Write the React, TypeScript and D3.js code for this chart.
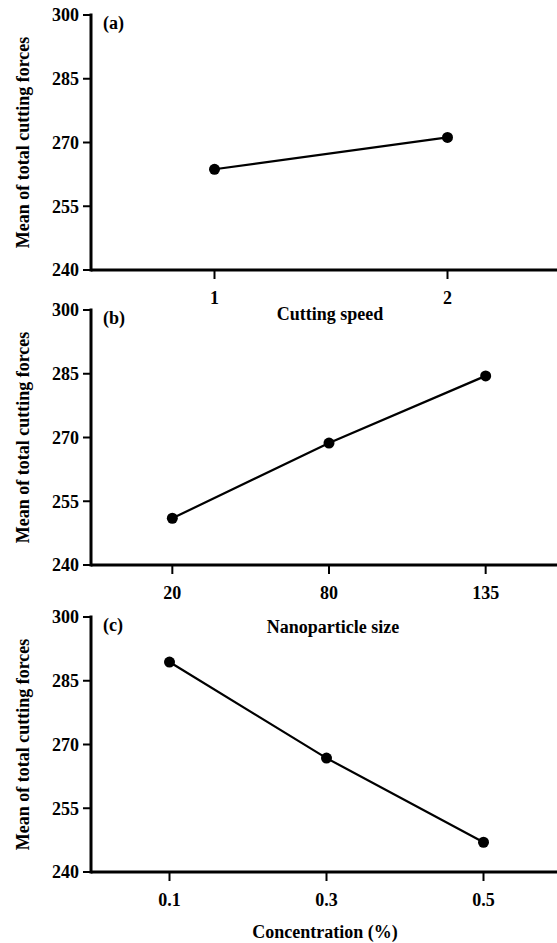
import React from "react";
import * as d3 from "d3";

// main effects data
const speedLevels = ["1", "2"];
const speedMeans = [263.7, 271.2];

const sizeLevels = ["20", "80", "135"];
const sizeMeans = [251.0, 268.7, 284.5];

const concLevels = ["0.1", "0.3", "0.5"];
const concMeans = [289.4, 266.8, 247.0];

const yTicks = [240, 255, 270, 285, 300];
const yTitle = "Mean of total cutting forces";

const W = 557;
const H = 943;
const axisLeft = 91;
const axisRight = 557;
const plotH = 255;
const font = "'Liberation Serif', 'Times New Roman', serif";

const panels = [
    { tag: "(a)", levels: speedLevels, means: speedMeans, title: "Cutting speed", top: 15, xRange: [98, 564], titleX: 330, titleY: 320 },
    { tag: "(b)", levels: sizeLevels, means: sizeMeans, title: "Nanoparticle size", top: 310, xRange: [94, 564], titleX: 333, titleY: 633 },
    { tag: "(c)", levels: concLevels, means: concMeans, title: "Concentration (%)", top: 617, xRange: [91, 562], titleX: 325, titleY: 938 },
];

const Panel = ({ p }: { p: typeof panels[0] }) => {
    const y = d3.scaleLinear().domain([240, 300]).range([p.top + plotH, p.top]);
    const x = d3.scalePoint().domain(p.levels).range(p.xRange as [number, number]).padding(0.5);
    const pts = p.levels.map((l, i) => [x(l) as number, y(p.means[i])] as [number, number]);
    const line = d3.line();
    const base = y(240);

    return (
        <g>
            {/* y title */}
            <text
                transform={`translate(23,${(y(240) + y(300)) / 2}) rotate(-90)`}
                textAnchor="middle"
                dominantBaseline="central"
                fontSize={18}
                fontWeight="bold"
            >
                {yTitle}
            </text>

            {/* y axis */}
            <line x1={axisLeft} x2={axisLeft} y1={y(300) - 1.5} y2={base + 1.5} stroke="black" strokeWidth={3} />
            {yTicks.map((t) => (
                <g key={t}>
                    <line x1={axisLeft - 8} x2={axisLeft} y1={y(t)} y2={y(t)} stroke="black" strokeWidth={2} />
                    <text x={axisLeft - 12} y={y(t)} dy="0.35em" textAnchor="end" fontSize={18} fontWeight="bold">
                        {t}
                    </text>
                </g>
            ))}

            {/* x axis */}
            <line x1={axisLeft} x2={axisRight} y1={base} y2={base} stroke="black" strokeWidth={3} />
            {p.levels.map((l) => (
                <g key={l}>
                    <line x1={x(l)} x2={x(l)} y1={base} y2={base + 9} stroke="black" strokeWidth={2} />
                    <text x={x(l)} y={base + 34} textAnchor="middle" fontSize={18} fontWeight="bold">
                        {l}
                    </text>
                </g>
            ))}
            <text x={p.titleX} y={p.titleY} textAnchor="middle" fontSize={18} fontWeight="bold">
                {p.title}
            </text>

            {/* panel tag */}
            <text x={103} y={p.top + 14} fontSize={18} fontWeight="bold">
                {p.tag}
            </text>

            {/* means */}
            <path d={line(pts) || ""} fill="none" stroke="black" strokeWidth={2.2} />
            {pts.map((d, i) => (
                <circle key={i} cx={d[0]} cy={d[1]} r={5.5} fill="black" />
            ))}
        </g>
    );
};

export default function App() {
    return (
        <svg
            width={W}
            height={H}
            style={{ position: "absolute", left: 0, top: 0, background: "white", fontFamily: font }}
        >
            {panels.map((p) => (
                <Panel key={p.tag} p={p} />
            ))}
        </svg>
    );
}
